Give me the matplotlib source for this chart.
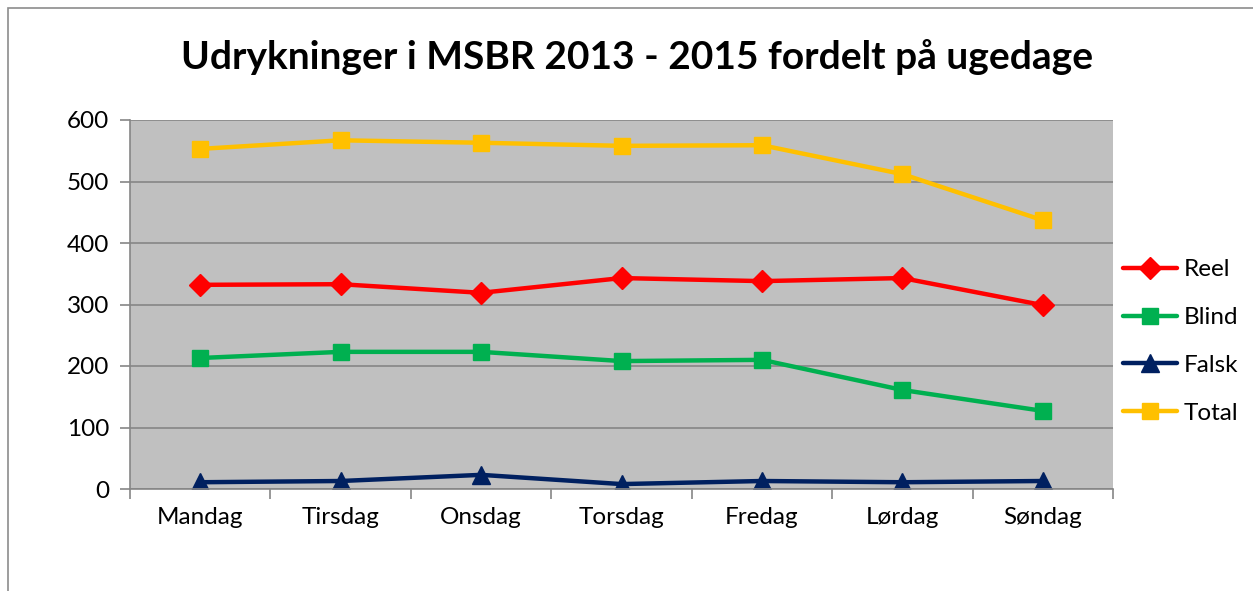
import matplotlib
matplotlib.use("Agg")
import matplotlib.pyplot as plt
from matplotlib.patches import Rectangle

plt.rcParams['font.family'] = ['Lato', 'DejaVu Sans']

days = ["Mandag", "Tirsdag", "Onsdag", "Torsdag", "Fredag", "Lørdag", "Søndag"]
reel = [332, 333, 319, 343, 338, 343, 299]
blind = [213, 223, 223, 208, 210, 161, 127]
falsk = [11, 13, 23, 8, 13, 11, 13]
total = [553, 567, 563, 558, 559, 512, 437]
yticks = [0, 100, 200, 300, 400, 500, 600]

fig = plt.figure(figsize=(12.53, 5.91), dpi=100)
fig.patches.append(Rectangle((8/1253, -0.1), 2, 1.1 - 8/591, transform=fig.transFigure,
                             fill=False, edgecolor="#8c8c8c", linewidth=1.2))
ax = fig.add_axes([130/1253, 102/591, 983/1253, 369/591])
ax.set_facecolor("#C0C0C0")

x = [i + 0.5 for i in range(len(days))]
series = [
    ("Reel", reel, "#FF0000", "D", 11),
    ("Blind", blind, "#00B050", "s", 12),
    ("Falsk", falsk, "#002060", "^", 13),
    ("Total", total, "#FFC000", "s", 12),
]
for name, vals, col, mk, ms in series:
    ax.plot(x, vals, color=col, linewidth=3.2, marker=mk, markersize=ms,
            markeredgecolor=col, label=name, solid_capstyle="round")

ax.set_xlim(0, len(days))
ax.set_ylim(0, 600)
ax.set_yticks(yticks)
ax.set_yticklabels([str(t) for t in yticks], fontsize=17.5)
ax.set_xticks(x)
ax.set_xticklabels(days, fontsize=17.5)
ax.set_xticks(range(len(days) + 1), minor=True)
ax.tick_params(axis="x", which="major", length=0, pad=13)
ax.tick_params(axis="x", which="minor", length=7, color="#868686", width=1.2)
ax.tick_params(axis="y", length=7, color="#868686", width=1.2, pad=8)
ax.grid(axis="y", color="#868686", linewidth=1.2)
ax.set_axisbelow(True)
for s in ["top", "right"]:
    ax.spines[s].set_visible(False)
for s in ["left", "bottom"]:
    ax.spines[s].set_color("#868686")
    ax.spines[s].set_linewidth(1.2)

fig.text(637/1253, 1 - 57/591, "Udrykninger i MSBR 2013 - 2015 fordelt på ugedage",
         ha="center", va="center", fontsize=28, fontweight="bold")

leg = ax.legend(loc="center left", bbox_to_anchor=(1.0, 0.40), frameon=False,
                fontsize=17.5, handlelength=2.25, labelspacing=1.1, handletextpad=0.25,
                borderaxespad=0.0)

fig.savefig("out.png", dpi=100)
